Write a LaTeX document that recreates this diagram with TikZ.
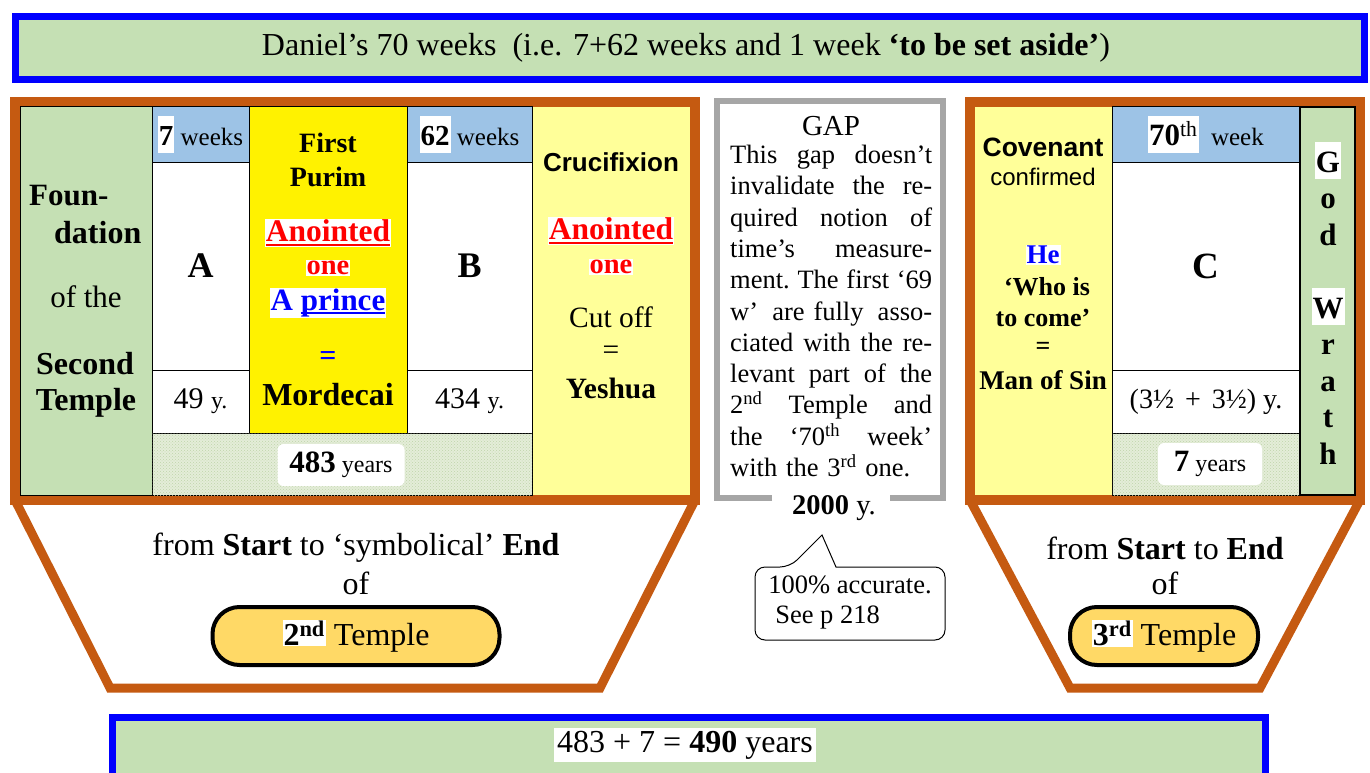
\documentclass[tikz,border=0pt]{standalone}
\usepackage{fontspec}
\setmainfont{Liberation Serif}
\newfontfamily\arialf{Liberation Sans}
\usetikzlibrary{patterns}
\definecolor{bannergreen}{HTML}{C5E0B4}
\definecolor{hdrblue}{HTML}{9DC3E6}
\definecolor{frameor}{HTML}{C55A11}
\definecolor{lyellow}{HTML}{FFFF99}
\definecolor{pillgold}{HTML}{FFD966}
\definecolor{gapgray}{HTML}{A6A6A6}
\definecolor{patbg}{HTML}{E4EDD8}
\definecolor{patdot}{HTML}{BFD4AA}
\definecolor{pureblue}{HTML}{0000FF}
\definecolor{purered}{HTML}{FF0000}
\newcommand\wb[1]{{\setlength{\fboxsep}{1pt}\colorbox{white}{#1}}}
\newcommand\wbt[1]{{\setlength{\fboxsep}{0pt}\colorbox{white}{\rule[-7pt]{0pt}{37pt}\hspace{1pt}#1\hspace{1pt}}}}
\newcommand\fs[2]{\fontsize{#1}{#2}\selectfont}
\newcommand\thul[1]{{\setbox0=\hbox{#1}\rlap{\rule[-4pt]{\wd0}{2.4pt}}\box0}}
\newcommand\jl[1]{\makebox[202pt][l]{#1}}
\tikzset{
  cell/.style={draw=black, line width=1pt, anchor=north west, inner sep=0pt, outer sep=0pt},
  orframe/.style={draw=frameor, line width=10pt},
  trap/.style={draw=frameor, line width=9pt, line join=miter, fill=white},
  lbl/.style={inner sep=0pt, align=center},
  pat/.style={fill=patbg, postaction={pattern=crosshatch dots, pattern color=patdot}},
  wbox/.style={fill=white, rounded corners=6pt, inner sep=0pt},
  pill/.style={draw=black, line width=4pt, fill=pillgold, rounded corners=27pt, inner sep=0pt},
  banner/.style={draw=pureblue, line width=7pt, fill=bannergreen, anchor=north west, inner sep=0pt}
}
\begin{document}
\begin{tikzpicture}[x=1pt,y=-1pt]
\useasboundingbox (0,0) rectangle (1370,773);
\fill[white] (0,0) rectangle (1370,773);

% ---------- top banner
\node[banner, minimum width=1349pt, minimum height=63pt] (title) at (11.5,13.5) {};
\node[lbl, font=\fs{32}{36}] (titletext) at (686,48) {Daniel's 70 weeks\ \ (i.e. 7+62 weeks and 1 week \textbf{`to be set aside'})};

% ---------- left panel
\draw[trap] (15,500) -- (110,688) -- (600,688) -- (695,500);
\draw[orframe] (15,102) rectangle (695,500);

\node[cell, fill=bannergreen, minimum width=132pt, minimum height=388pt] (fnd) at (20,107) {};
\node[cell, draw=none, fill=lyellow, minimum width=158pt, minimum height=388pt] (cruc) at (532,107) {};
\node[cell, fill=hdrblue, minimum width=97pt, minimum height=55pt, font=\fs{25}{28}] (wk7) at (152,107) {\wbt{\fs{29}{30}\textbf{7}} weeks};
\node[cell, fill=white, minimum width=97pt, minimum height=208pt, font=\fs{36}{40}\bfseries] (A) at (152,162) {A};
\node[cell, fill=white, minimum width=97pt, minimum height=63pt, font=\fs{30}{32}] (y49) at (152,370) {49 {\fs{24}{26}y.}};
\node[cell, fill=yellow, minimum width=158pt, minimum height=326pt] (purim) at (249,107) {};
\node[cell, fill=hdrblue, minimum width=125pt, minimum height=55pt, font=\fs{25}{28}] (wk62) at (407,107) {\wbt{\fs{29}{30}\textbf{62}} weeks};
\node[cell, fill=white, minimum width=125pt, minimum height=208pt, font=\fs{36}{40}\bfseries] (B) at (407,162) {B};
\node[cell, fill=white, minimum width=125pt, minimum height=63pt, font=\fs{30}{32}] (y434) at (407,370) {434 {\fs{24}{26}y.}};
\node[cell, pat, minimum width=380pt, minimum height=62pt] (tot483) at (152,433) {};
\node[wbox, minimum width=127pt, minimum height=42pt, font=\fs{24}{26}] (w483) at (341,465) {{\fs{31}{32}\textbf{483}} years};

% foundation column text
\node[lbl, anchor=west, font=\fs{31}{34}\bfseries] (fnd1) at (29,196) {Foun-};
\node[lbl, anchor=west, font=\fs{32}{34}\bfseries] (fnd2) at (54,233) {dation};
\node[lbl, font=\fs{31}{34}] (fnd3) at (86,297) {of the};
\node[lbl, font=\fs{32}{34}\bfseries] (fnd4) at (85,364) {Second};
\node[lbl, font=\fs{32}{34}\bfseries] (fnd5) at (86,403) {Temple};

% purim column text
\node[lbl, font=\fs{28}{30}\bfseries] (pur1) at (328,143) {First};
\node[lbl, font=\fs{28}{30}\bfseries] (pur2) at (328,177) {Purim};
\node[lbl, font=\fs{31.5}{34}\bfseries] (pur3) at (328,233) {\wb{\color{purered}\thul{Anointed}}};
\node[lbl, font=\fs{28.5}{30}\bfseries] (pur4) at (328,268) {\wb{\color{purered}one}};
\node[lbl, font=\fs{31}{34}\bfseries] (pur5) at (328,303) {\wb{\color{pureblue}A \thul{prince}}};
\node[lbl, font=\fs{30}{32}\bfseries, text=pureblue] (pur6) at (328,358) {=};
\node[lbl, font=\fs{32}{34}\bfseries] (pur7) at (328,395) {Mordecai};

% crucifixion column text
\node[lbl, font=\fs{26}{30}\arialf\bfseries] (cr1) at (611,162) {Crucifixion};
\node[lbl, font=\fs{31.5}{34}\bfseries] (cr2) at (611,231) {\wb{\color{purered}\thul{Anointed}}};
\node[lbl, font=\fs{28.5}{30}\bfseries] (cr3) at (611,267) {\wb{\color{purered}one}};
\node[lbl, font=\fs{29.5}{32}] (cr4) at (611,317) {Cut off};
\node[lbl, font=\fs{29.5}{32}] (cr5) at (611,353) {=};
\node[lbl, font=\fs{29.5}{32}\bfseries] (cr6) at (611,388) {Yeshua};

% left trapezoid text
\node[lbl, font=\fs{32}{34}] (ltr1) at (356,548) {from \textbf{Start} to `symbolical' \textbf{End}};
\node[lbl, font=\fs{32}{34}] (ltr2) at (356,583) {of};
\node[pill, minimum width=287pt, minimum height=58pt, font=\fs{32}{34}] (pill2) at (356,636) {\wb{\textbf{2\textsuperscript{nd}}} Temple};

% ---------- gap box
\draw[gapgray, line width=6pt] (772,498) -- (717,498) -- (717,101) -- (943,101) -- (943,498) -- (890,498);
\node[lbl, font=\fs{29}{32}] (gaptitle) at (831,126) {GAP};
\node[inner sep=0pt, anchor=north west, text width=202pt, align=left, font=\fs{26.5}{31.3}] (gaptext) at (730,145)
{\jl{This\hfill gap\hfill doesn't}\\
\jl{invalidate\hfill the\hfill re-}\\
\jl{quired\hfill notion\hfill of}\\
\jl{time's\hfill measure-}\\
\jl{ment.\hfill The\hfill first\hfill `69}\\
\jl{w'\hfill are fully\hfill asso-}\\
\jl{ciated\hfill with\hfill the\hfill re-}\\
\jl{levant\hfill part\hfill of\hfill the}\\
\jl{2\textsuperscript{nd}\hfill Temple\hfill and}\\
\jl{the\hfill `70\textsuperscript{th}\hfill week'}\\
with the 3\textsuperscript{rd} one.};
\node[lbl, font=\fs{28.5}{30}] (y2000) at (834,508) {\textbf{2000} y.};

% callout
\draw[line width=1pt, fill=white, rounded corners=10pt] (755,600) -- (755,567) -- (790,567) [sharp corners] -- (822,535) -- (836,567) [rounded corners=10pt] -- (945,567) -- (945,640) -- (755,640) -- cycle;
\node[lbl, align=left, font=\fs{26.5}{30}] (callout) at (850,603) {100\% accurate.\\\hspace*{7pt}See p 218};

% ---------- right panel
\draw[trap] (970,500) -- (1070,688) -- (1260,688) -- (1360,500);
\draw[orframe] (970,102) rectangle (1360,500);

\node[cell, draw=none, fill=lyellow, minimum width=137pt, minimum height=388pt] (cov) at (975,107) {};
\node[cell, fill=hdrblue, minimum width=188pt, minimum height=55pt, font=\fs{25}{28}] (wk70) at (1112,107) {\wbt{\fs{31}{32}\textbf{70}\textsuperscript{th}}\ \ week};
\node[cell, fill=white, minimum width=188pt, minimum height=208pt, font=\fs{37}{40}\bfseries] (C) at (1112,162) {C};
\node[cell, fill=white, minimum width=188pt, minimum height=63pt, font=\fs{28}{30}] (y7h) at (1112,370) {(3½\hspace{4pt} +\hspace{4pt} 3½) y.};
\node[cell, pat, minimum width=188pt, minimum height=62pt] (tot7) at (1112,433) {};
\node[wbox, minimum width=104pt, minimum height=42pt, font=\fs{24}{26}] (w7) at (1210,464) {{\fs{31}{32}\textbf{7}} years};
\node[cell, fill=bannergreen, line width=1.5pt, minimum width=55pt, minimum height=388pt] (wrath) at (1300,107) {};
\node[lbl, font=\fs{31}{36.5}\bfseries] (wrathtext) at (1328,303) {\wbt{G}\\o\\d\\\mbox{}\\\wbt{W}\\r\\a\\t\\h};

% covenant column text
\node[lbl, font=\fs{26.5}{30}\arialf\bfseries] (cv1) at (1043,147) {Covenant};
\node[lbl, font=\fs{24}{28}\arialf] (cv2) at (1043,177) {confirmed};
\node[lbl, font=\fs{27}{30}\bfseries] (cv3) at (1043,255) {\wb{\color{pureblue}He}};
\node[lbl, font=\fs{26}{30}\bfseries] (cv4) at (1047,287) {`Who is};
\node[lbl, font=\fs{26}{30}\bfseries] (cv5) at (1043,318) {to come'};
\node[lbl, font=\fs{26}{30}\bfseries] (cv6) at (1043,348) {=};
\node[lbl, font=\fs{27}{30}\bfseries] (cv7) at (1043,380) {Man of Sin};

% right trapezoid text
\node[lbl, font=\fs{32}{34}] (rtr1) at (1165,548) {from \textbf{Start} to \textbf{End}};
\node[lbl, font=\fs{32}{34}] (rtr2) at (1165,583) {of};
\node[pill, minimum width=188pt, minimum height=58pt, font=\fs{32}{34}] (pill3) at (1164,636) {\wb{\textbf{3\textsuperscript{rd}}} Temple};

% ---------- bottom banner
\node[banner, minimum width=1153pt, minimum height=90pt] (sum) at (108.5,713.5) {};
\node[lbl, font=\fs{32}{34}] (sumtext) at (685,745) {{\setlength{\fboxsep}{3pt}\colorbox{white}{483 + 7 = \textbf{490} years}}};
\end{tikzpicture}
\end{document}
